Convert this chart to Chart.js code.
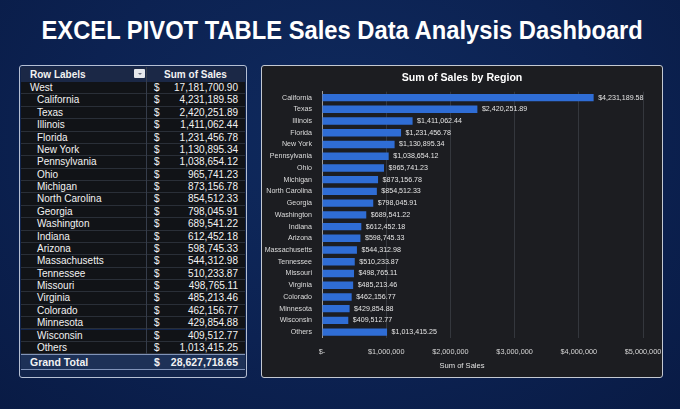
<!DOCTYPE html>
<html>
<head>
<meta charset="utf-8">
<title>Sales Data Analysis Dashboard</title>
<script src="https://cdn.jsdelivr.net/npm/chart.js"></script>
<style>
  html, body { margin: 0; padding: 0; }
  body {
    width: 680px; height: 409px; overflow: hidden; position: relative;
    background: radial-gradient(ellipse at 50% 35%, #0f2a5e 0%, #0c2252 55%, #091b45 100%);
    font-family: "Liberation Sans", Arial, sans-serif; color: #f2f2f2;
  }
  #title { position: absolute; left: 2.5px; top: 14.3px; width: 680px; text-align: center;
    font-size: 26px; line-height: 32px; font-weight: bold; color: #fff; white-space: nowrap; }
  #title span { display: inline-block; transform-origin: 50% 50%; }

  .panel { position: absolute; box-sizing: border-box; border-radius: 3px; }
  #tablePanel { left: 19px; top: 65px; width: 228px; height: 313px;
    border: 1.5px solid #b5bfd3; background: #12244b; }
  #chartPanel { left: 261px; top: 65px; width: 402px; height: 313px;
    border: 1.5px solid #c4c9d2; background: #1c1d21; }

  #tbl { position: absolute; left: 21px; top: 67px; width: 224px; height: 303px; font-size: 10px; }
  .row { position: absolute; left: 0; width: 224px; box-sizing: border-box; white-space: nowrap; }
  .row .lab { position: absolute; left: 9px; }
  .row .lab.ind { left: 16px; }
  .row .cur { position: absolute; left: 133px; }
  .row .val { position: absolute; right: 7px; }
  .hdr { background: #1b2846; font-weight: bold; }
  .hdr .sum { position: absolute; left: 125px; width: 99px; text-align: center; }
  .hdr .btn { position: absolute; left: 113px; top: 2px; width: 11px; height: 9px; background: #e6e8ec;
    border-radius: 1px; }
  .hdr .btn::after { content: ""; position: absolute; left: 3.5px; top: 3.5px;
    border-left: 2px solid transparent; border-right: 2px solid transparent; border-top: 2.5px solid #6b7080; }
  .data { background: #111317; border-bottom: 1px solid #2a2f38; }
  .total { background: #1d3157; border-top: 1px solid #8194b9; border-bottom: 1px solid #8194b9;
    font-weight: bold; font-size: 10.5px; }
  #divider { position: absolute; left: 125px; top: 0; width: 1px; height: 287px; background: #363d4b; }

  #chart { position: absolute; left: 262px; top: 66px; }
</style>
</head>
<body>
<div id="title"><span>EXCEL PIVOT TABLE Sales Data Analysis Dashboard</span></div>

<div class="panel" id="tablePanel"></div>
<div id="tbl"></div>

<div class="panel" id="chartPanel"></div>
<canvas id="chart" width="400" height="311"></canvas>

<script>
  const regions = ['California', 'Texas', 'Illinois', 'Florida', 'New York', 'Pennsylvania', 'Ohio',
    'Michigan', 'North Carolina', 'Georgia', 'Washington', 'Indiana', 'Arizona', 'Massachusetts',
    'Tennessee', 'Missouri', 'Virginia', 'Colorado', 'Minnesota', 'Wisconsin', 'Others'];
  const sales = [4231189.58, 2420251.89, 1411062.44, 1231456.78, 1130895.34, 1038654.12, 965741.23,
    873156.78, 854512.33, 798045.91, 689541.22, 612452.18, 598745.33, 544312.98,
    510233.87, 498765.11, 485213.46, 462156.77, 429854.88, 409512.77, 1013415.25];
  const groupLabel = 'West';
  const groupTotal = 17181700.90;
  const grandTotal = 28627718.65;
  const xTicks = [0, 1000000, 2000000, 3000000, 4000000, 5000000];

  const num = v => v.toLocaleString('en-US', { minimumFractionDigits: 2, maximumFractionDigits: 2 });
  const money = v => '$' + num(v);
  const font = '"Liberation Sans", Arial, sans-serif';

  // title squeezed to the width of the original
  const t = document.querySelector('#title span');
  t.style.transform = 'scaleX(' + (601 / t.offsetWidth) + ')';

  // pivot table
  const tbl = document.getElementById('tbl');
  const rowH = 12.37;
  let html = '<div class="row hdr" style="top:0;height:15px;line-height:15px">' +
    '<span class="lab">Row Labels</span><span class="btn"></span><span class="sum">Sum of Sales</span></div>';
  const rows = [[groupLabel, groupTotal, false]].concat(regions.map((r, i) => [r, sales[i], true]));
  rows.forEach((r, i) => {
    const top = 15.1 + i * rowH;
    html += '<div class="row data" style="top:' + top + 'px;height:' + rowH + 'px;line-height:' + rowH + 'px">' +
      '<span class="lab' + (r[2] ? ' ind' : '') + '">' + r[0] + '</span>' +
      '<span class="cur">$</span><span class="val">' + num(r[1]) + '</span></div>';
  });
  html += '<div class="row total" style="top:287.3px;height:16px;line-height:14px">' +
    '<span class="lab">Grand Total</span><span class="cur">$</span><span class="val">' + num(grandTotal) + '</span></div>';
  html += '<div id="divider"></div>';
  tbl.innerHTML = html;

  // value labels at the end of each bar
  const valueLabels = {
    id: 'valueLabels',
    afterDatasetsDraw(chart) {
      const ctx = chart.ctx;
      const meta = chart.getDatasetMeta(0);
      ctx.save();
      ctx.font = '7.1px ' + font;
      ctx.fillStyle = '#e4e4e4';
      ctx.textBaseline = 'middle';
      meta.data.forEach((bar, i) => {
        ctx.fillText(money(sales[i]), bar.x + 4.5, bar.y);
      });
      ctx.restore();
    }
  };

  new Chart(document.getElementById('chart'), {
    type: 'bar',
    data: {
      labels: regions,
      datasets: [{
        label: 'Sum of Sales',
        data: sales,
        backgroundColor: '#2f6dd5',
        barPercentage: 0.63,
        categoryPercentage: 1
      }]
    },
    options: {
      indexAxis: 'y',
      responsive: false,
      animation: false,
      layout: { padding: { left: 0, right: 0, top: 0, bottom: 4 } },
      plugins: {
        legend: { display: false },
        tooltip: { enabled: false },
        title: {
          display: true,
          text: 'Sum of Sales by Region',
          color: '#ffffff',
          font: { family: font, size: 10.6, weight: 'bold' },
          padding: { top: 5.5, bottom: 7.5 }
        },
        // axis caption, centred on the whole panel like the original
        subtitle: {
          display: true,
          position: 'bottom',
          text: 'Sum of Sales',
          color: '#e0e0e0',
          font: { family: font, size: 7.6, weight: 'normal' },
          padding: { top: 0, bottom: 2.5 }
        }
      },
      scales: {
        x: {
          min: 0,
          max: 5000000,
          afterBuildTicks: s => { s.ticks = xTicks.map(v => ({ value: v })); },
          afterFit: s => { s.height = 23.4; s.paddingLeft = 0; s.paddingRight = 19; },
          ticks: {
            color: '#d6d6d6',
            padding: 10,
            font: { family: font, size: 7.3 },
            callback: v => v === 0 ? '$-' : '$' + v.toLocaleString('en-US')
          },
          grid: { color: '#34373d', drawTicks: false },
          border: { display: false }
        },
        y: {
          afterFit: s => { s.width = 60; },
          ticks: {
            color: '#dcdcdc',
            padding: 10,
            font: { family: font, size: 7.1 }
          },
          grid: { display: false, drawTicks: false },
          border: { display: true, color: '#9c9c9c', width: 1 }
        }
      }
    },
    plugins: [valueLabels]
  });
</script>
</body>
</html>
